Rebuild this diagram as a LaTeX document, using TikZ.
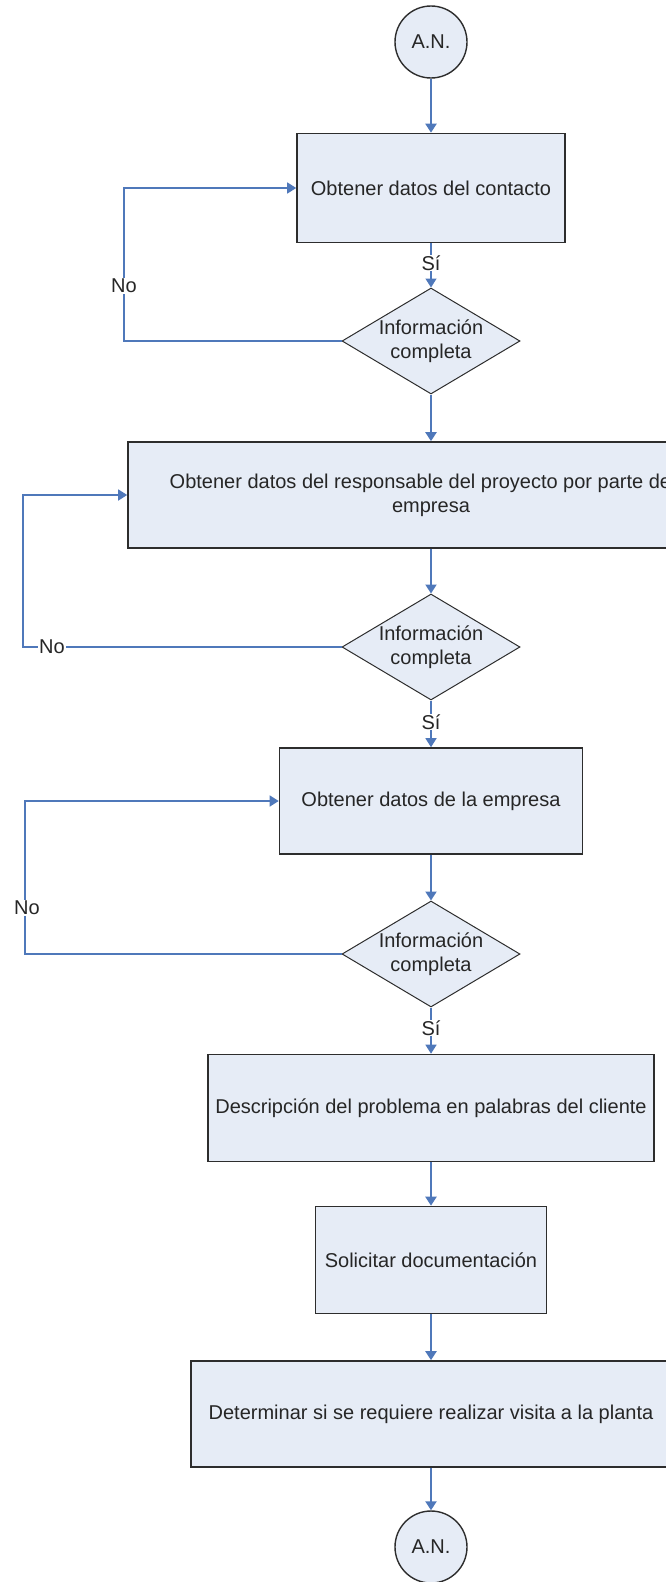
\documentclass[tikz,border=0pt]{standalone}
\usepackage{fontspec}
\setmainfont{Liberation Sans}
\usetikzlibrary{arrows.meta,positioning,shapes.geometric}
\definecolor{cajaazul}{RGB}{230,236,246}
\definecolor{lineaazul}{RGB}{79,120,186}
\definecolor{bordegris}{RGB}{45,45,45}

\begin{document}
\begin{tikzpicture}[x=1pt,y=-1pt,
    font=\fontsize{20}{24}\selectfont,
    paso/.style={draw=bordegris,line width=1.6pt,fill=cajaazul,align=center,inner sep=0pt,text=black!85},
    decision/.style={diamond,draw=bordegris,line width=1pt,fill=cajaazul,align=center,inner sep=0pt,
        shape aspect=1.68,minimum width=178pt,minimum height=106pt,text=black!85},
    conector/.style={circle,draw=bordegris,line width=1.4pt,fill=cajaazul,minimum size=72pt,inner sep=0pt,text=black!85},
    flecha/.style={draw=lineaazul,line width=2pt,-{Triangle[width=11pt,length=9pt]}},
    lazo/.style={draw=lineaazul,line width=1.4pt,-{Triangle[width=11pt,length=9pt]}},
    etiq/.style={fill=white,inner sep=1pt,text=black!85}]
    \useasboundingbox (0,0) rectangle (666,1582);
    \clip (0,0) rectangle (666,1582);

    % Conector de entrada
    \node[conector] (an1) at (431,42) {A.N.};

    % Datos del contacto
    \node[paso,minimum width=268pt,minimum height=109pt] (contacto) at (431,188) {Obtener datos del contacto};
    \node[decision] (info1) at (431,341) {Información\\completa};

    % Datos del responsable
    \node[paso,minimum width=606pt,minimum height=106pt] (responsable) at (431,495)
        {Obtener datos del responsable del proyecto por parte de la\\empresa};
    \node[decision] (info2) at (431,647) {Información\\completa};

    % Datos de la empresa
    \node[paso,minimum width=303pt,minimum height=106pt] (empresa) at (431,801) {Obtener datos de la empresa};
    \node[decision] (info3) at (431,954) {Información\\completa};

    % Resto del proceso
    \node[paso,minimum width=446pt,minimum height=107pt] (problema) at (431,1108) {Descripción del problema en palabras del cliente};
    \node[paso,minimum width=231pt,minimum height=107pt] (docs) at (431,1260) {Solicitar documentación};
    \node[paso,minimum width=480pt,minimum height=106pt] (visita) at (431,1414) {Determinar si se requiere realizar visita a la planta};

    % Conector de salida
    \node[conector] (an2) at (431,1547) {A.N.};

    % Flechas principales
    \draw[flecha] (an1) -- (contacto);
    \draw[lazo] (contacto) -- (info1);
    \draw[flecha] (info1) -- (responsable);
    \draw[flecha] (responsable) -- (info2);
    \draw[lazo] (info2) -- (empresa);
    \draw[flecha] (empresa) -- (info3);
    \draw[lazo] (info3) -- (problema);
    \draw[flecha] (problema) -- (docs);
    \draw[flecha] (docs) -- (visita);
    \draw[flecha] (visita) -- (an2);

    % Retornos
    \coordinate (vuelta1) at (124,188);
    \coordinate (vuelta2) at (23,495);
    \coordinate (vuelta3) at (25,801);
    \draw[lazo] (info1.west) -| (vuelta1) -- (contacto.west);
    \draw[lazo] (info2.west) -| (vuelta2) -- (responsable.west);
    \draw[lazo] (info3.west) -| (vuelta3) -- (empresa.west);

    % Etiquetas
    \node[etiq] (si1) at (431,263) {Sí};
    \node[etiq] (si2) at (431,722) {Sí};
    \node[etiq] (si3) at (431,1028) {Sí};
    \node[etiq] (no1) at (124,286) {No};
    \node[etiq] (no2) at (52,647) {No};
    \node[etiq] (no3) at (27,908) {No};
\end{tikzpicture}
\end{document}
